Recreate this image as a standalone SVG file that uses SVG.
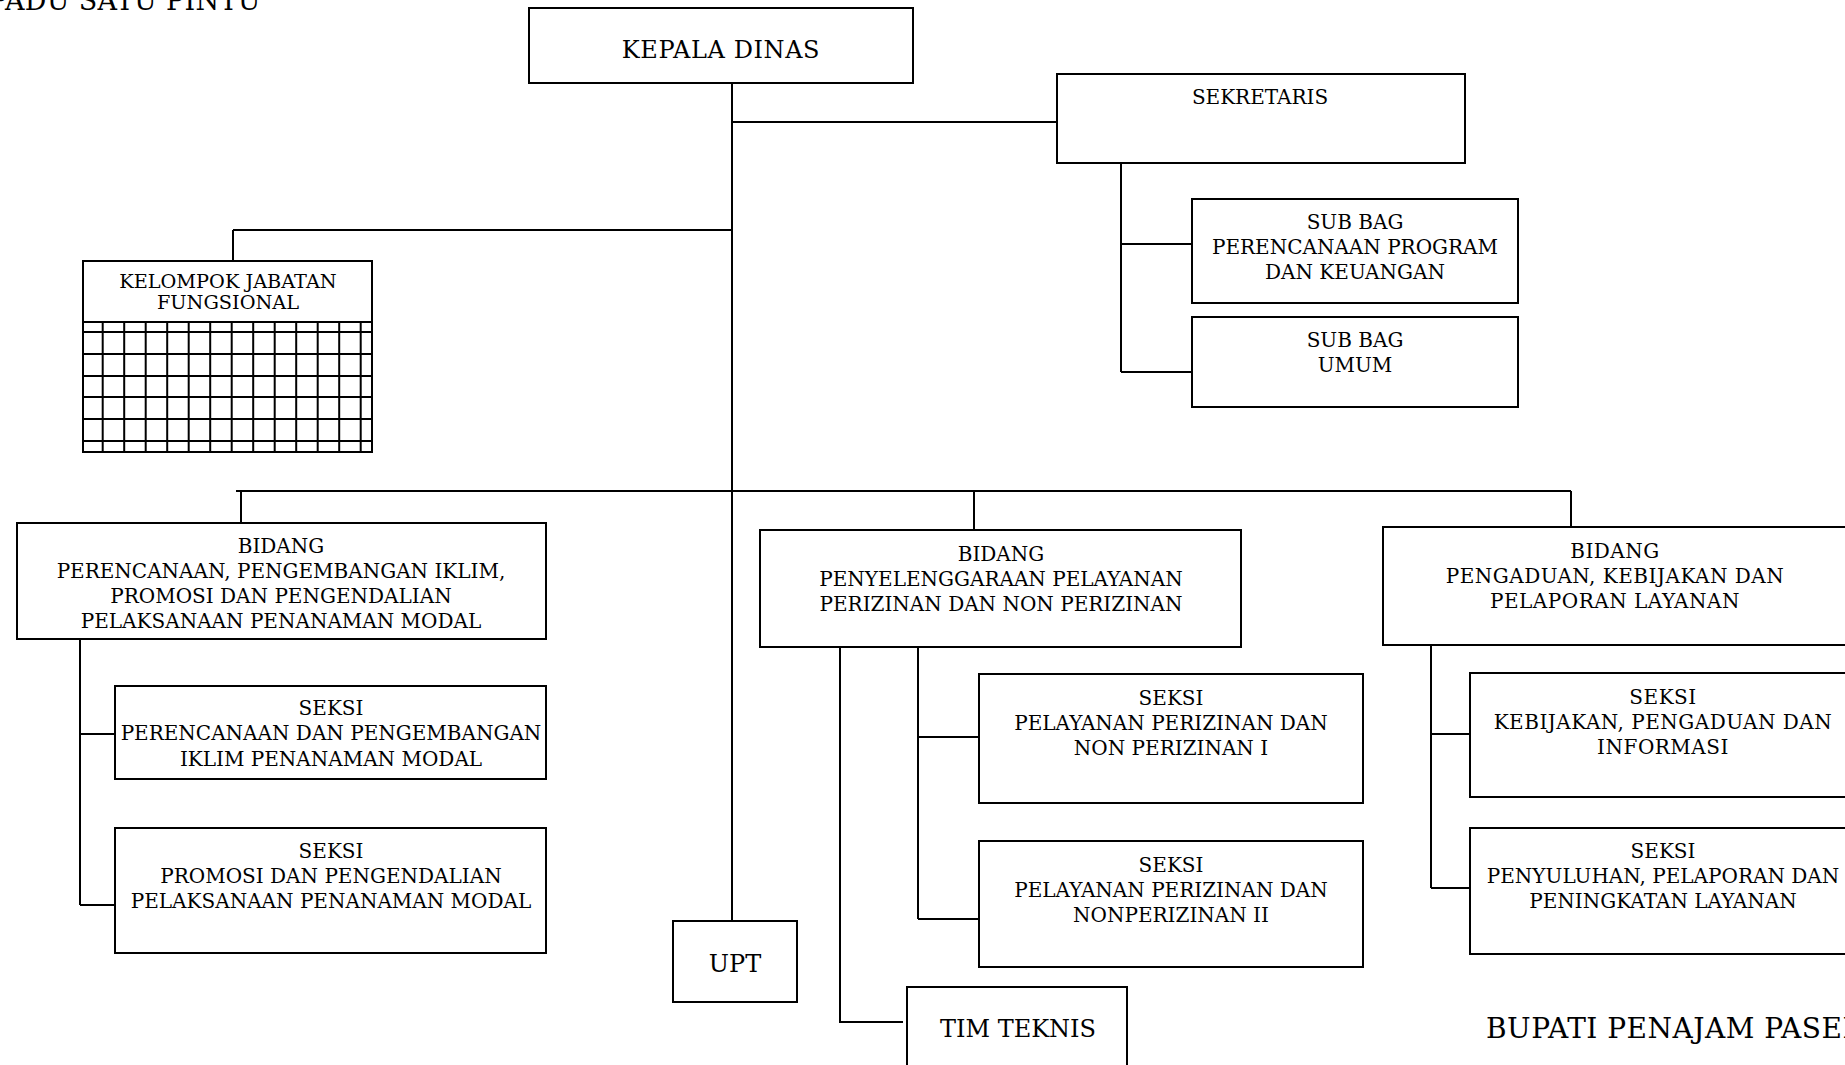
<svg xmlns="http://www.w3.org/2000/svg" width="1845" height="1065" viewBox="0 0 1845 1065">
<style>
.box{fill:#fff;stroke:#000;stroke-width:2}
.ln{fill:none;stroke:#000;stroke-width:2}
.grid{fill:none;stroke:#000;stroke-width:2}
text{font-family:"DejaVu Serif","Liberation Serif",serif;fill:#000;text-anchor:middle}
.s{font-size:20px}
.k{font-size:19.3px}
.b{font-size:24px}
</style>
<rect width="1845" height="1065" fill="#fff"/>
<text x="-11" y="10" style="text-anchor:start;font-size:27px;letter-spacing:0.3px">PADU SATU PINTU</text>

<g id="connectors">
<path class="ln" d="M732,83 V921"/>
<path class="ln" d="M732,122 H1057"/>
<path class="ln" d="M233,230 H732 M233,230 V261"/>
<path class="ln" d="M1121,163 V372 M1121,244 H1192 M1121,372 H1192"/>
<path class="ln" d="M236,491 H1571 M241,491 V523 M974,491 V530 M1571,491 V527"/>
<path class="ln" d="M80,639 V905 M80,734 H115 M80,905 H115"/>
<path class="ln" d="M918,647 V919 M918,737 H979 M918,919 H979"/>
<path class="ln" d="M840,643 V1022 H903"/>
<path class="ln" d="M1431,645 V888 M1431,734 H1470 M1431,888 H1470"/>
</g>

<g id="kepala-dinas">
<rect class="box" x="529" y="8" width="384" height="75"/>
<text class="b" x="721" y="58" style="letter-spacing:0.6px">KEPALA DINAS</text>
</g>

<g id="sekretaris">
<rect class="box" x="1057" y="74" width="408" height="89"/>
<text class="s" x="1260" y="104">SEKRETARIS</text>
</g>

<g id="subbag-ppk">
<rect class="box" x="1192" y="199" width="326" height="104"/>
<text class="s" x="1355" y="229">SUB BAG</text>
<text class="s" x="1355" y="254">PERENCANAAN PROGRAM</text>
<text class="s" x="1355" y="279">DAN KEUANGAN</text>
</g>

<g id="subbag-umum">
<rect class="box" x="1192" y="317" width="326" height="90"/>
<text class="s" x="1355" y="347">SUB BAG</text>
<text class="s" x="1355" y="372">UMUM</text>
</g>

<g id="kelompok-jabatan">
<rect class="box" x="83" y="261" width="289" height="191"/>
<path class="grid" d="M83,322 H372 M83,332 H372 M83,354 H372 M83,376 H372 M83,397 H372 M83,419 H372 M83,441 H372
M102.7,322 V452 M124.2,322 V452 M145.7,322 V452 M167.2,322 V452 M188.7,322 V452 M210.2,322 V452 M231.7,322 V452 M253.2,322 V452 M274.7,322 V452 M296.2,322 V452 M317.7,322 V452 M339.2,322 V452 M360.7,322 V452"/>
<text class="k" x="228" y="288">KELOMPOK JABATAN</text>
<text class="k" x="228" y="309">FUNGSIONAL</text>
</g>

<g id="bidang-perencanaan">
<rect class="box" x="17" y="523" width="529" height="116"/>
<text class="s" x="281" y="553">BIDANG</text>
<text class="s" x="281" y="578">PERENCANAAN, PENGEMBANGAN IKLIM,</text>
<text class="s" x="281" y="603">PROMOSI DAN PENGENDALIAN</text>
<text class="s" x="281" y="628">PELAKSANAAN PENANAMAN MODAL</text>
</g>

<g id="seksi-perencanaan">
<rect class="box" x="115" y="686" width="431" height="93"/>
<text class="s" x="331" y="715">SEKSI</text>
<text class="s" x="331" y="740">PERENCANAAN DAN PENGEMBANGAN</text>
<text class="s" x="331" y="766">IKLIM PENANAMAN MODAL</text>
</g>

<g id="seksi-promosi">
<rect class="box" x="115" y="828" width="431" height="125"/>
<text class="s" x="331" y="858">SEKSI</text>
<text class="s" x="331" y="883">PROMOSI DAN PENGENDALIAN</text>
<text class="s" x="331" y="908">PELAKSANAAN PENANAMAN MODAL</text>
</g>

<g id="upt">
<rect class="box" x="673" y="921" width="124" height="81"/>
<text class="b" x="735" y="972">UPT</text>
</g>

<g id="bidang-penyelenggaraan">
<rect class="box" x="760" y="530" width="481" height="117"/>
<text class="s" x="1001" y="561">BIDANG</text>
<text class="s" x="1001" y="586">PENYELENGGARAAN PELAYANAN</text>
<text class="s" x="1001" y="611">PERIZINAN DAN NON PERIZINAN</text>
</g>

<g id="seksi-pelayanan-1">
<rect class="box" x="979" y="674" width="384" height="129"/>
<text class="s" x="1171" y="705">SEKSI</text>
<text class="s" x="1171" y="730">PELAYANAN PERIZINAN DAN</text>
<text class="s" x="1171" y="755">NON PERIZINAN I</text>
</g>

<g id="seksi-pelayanan-2">
<rect class="box" x="979" y="841" width="384" height="126"/>
<text class="s" x="1171" y="872">SEKSI</text>
<text class="s" x="1171" y="897">PELAYANAN PERIZINAN DAN</text>
<text class="s" x="1171" y="922">NONPERIZINAN II</text>
</g>

<g id="tim-teknis">
<rect class="box" x="907" y="987" width="220" height="100"/>
<text class="b" x="1018" y="1037">TIM TEKNIS</text>
</g>

<g id="bidang-pengaduan">
<rect class="box" x="1383" y="527" width="500" height="118"/>
<text class="s" x="1615" y="558" style="letter-spacing:0.5px">BIDANG</text>
<text class="s" x="1615" y="583" style="letter-spacing:0.5px">PENGADUAN, KEBIJAKAN DAN</text>
<text class="s" x="1615" y="608" style="letter-spacing:0.5px">PELAPORAN LAYANAN</text>
</g>

<g id="seksi-kebijakan">
<rect class="box" x="1470" y="673" width="400" height="124"/>
<text class="s" x="1663" y="704" style="letter-spacing:0.5px">SEKSI</text>
<text class="s" x="1663" y="729" style="letter-spacing:0.5px">KEBIJAKAN, PENGADUAN DAN</text>
<text class="s" x="1663" y="754" style="letter-spacing:0.5px">INFORMASI</text>
</g>

<g id="seksi-penyuluhan">
<rect class="box" x="1470" y="828" width="400" height="126"/>
<text class="s" x="1663" y="858">SEKSI</text>
<text class="s" x="1663" y="883">PENYULUHAN, PELAPORAN DAN</text>
<text class="s" x="1663" y="908">PENINGKATAN LAYANAN</text>
</g>

<text x="1486" y="1038" style="text-anchor:start;font-size:28px;letter-spacing:0.5px">BUPATI PENAJAM PASER</text>
</svg>
